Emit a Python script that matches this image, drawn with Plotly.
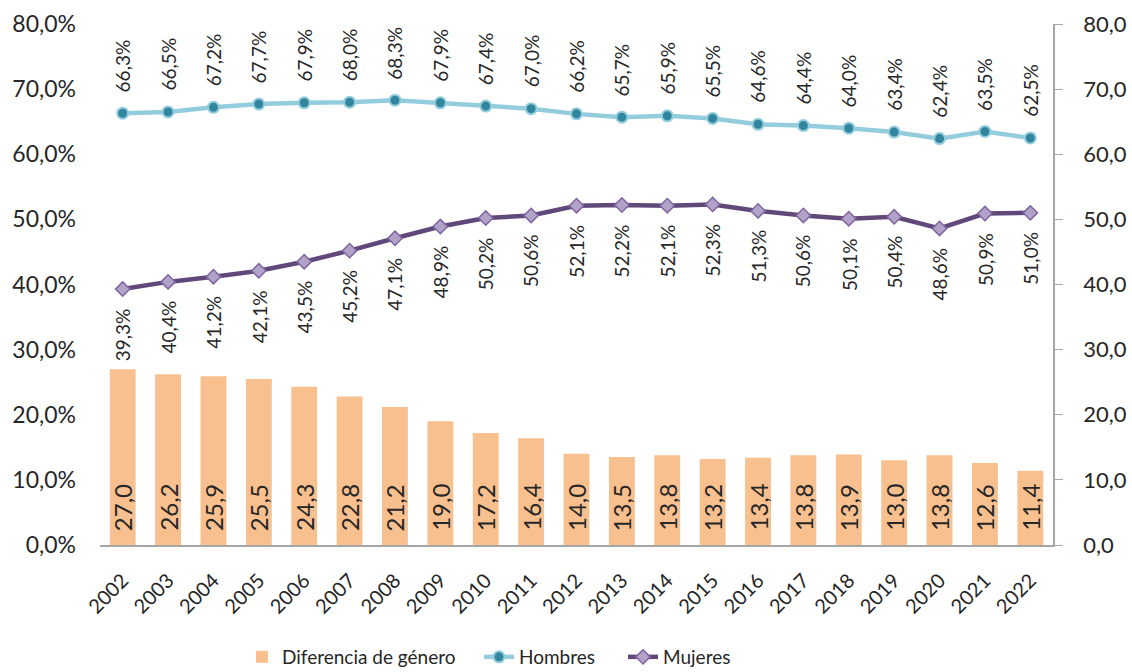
import plotly.graph_objects as go

years = [str(y) for y in range(2002, 2023)]
hombres = [66.3, 66.5, 67.2, 67.7, 67.9, 68.0, 68.3, 67.9, 67.4, 67.0, 66.2,
           65.7, 65.9, 65.5, 64.6, 64.4, 64.0, 63.4, 62.4, 63.5, 62.5]
mujeres = [39.3, 40.4, 41.2, 42.1, 43.5, 45.2, 47.1, 48.9, 50.2, 50.6, 52.1,
           52.2, 52.1, 52.3, 51.3, 50.6, 50.1, 50.4, 48.6, 50.9, 51.0]
diferencia = [27.0, 26.2, 25.9, 25.5, 24.3, 22.8, 21.2, 19.0, 17.2, 16.4, 14.0,
              13.5, 13.8, 13.2, 13.4, 13.8, 13.9, 13.0, 13.8, 12.6, 11.4]

FONT = "Lato"
TXT = "#262626"

# plot area in pixels
L, R, T, B = 100, 79, 24, 127
W, H = 1132, 672
PW, PH = W - L - R, H - T - B


def coma(v):
    return f"{v:.1f}".replace(".", ",")


def px_x(px):
    return (px - L) / PW


def px_y(px):
    return (H - B - px) / PH


fig = go.Figure()

fig.add_trace(go.Bar(
    x=years, y=diferencia, name="Diferencia de género", yaxis="y2",
    marker=dict(color="#F9C08F", line=dict(width=0)),
    width=0.57, legend="legend",
))

fig.add_trace(go.Scatter(
    x=years, y=hombres, name="Hombres", mode="lines+markers",
    line=dict(color="#93CDDD", width=4.5),
    marker=dict(symbol="circle", size=11, color="#31859C",
                line=dict(color="#93CDDD", width=2)),
    legend="legend2",
))

fig.add_trace(go.Scatter(
    x=years, y=mujeres, name="Mujeres", mode="lines+markers",
    line=dict(color="#60497A", width=4.5),
    marker=dict(symbol="diamond", size=11, color="#B3A2C7",
                line=dict(color="#8064A2", width=1.5)),
    legend="legend3",
))

annotations = []
# value labels: bars read from the base, lines above (Hombres) / below (Mujeres)
for i, v in enumerate(diferencia):
    annotations.append(dict(
        x=i, y=0, xref="x", yref="y2", text=coma(v),
        textangle=-90, showarrow=False, yanchor="bottom", yshift=12,
        font=dict(family=FONT, size=24, color=TXT)))
for i, v in enumerate(hombres):
    annotations.append(dict(
        x=i, y=v, xref="x", yref="y", text=coma(v) + "%",
        textangle=-90, showarrow=False, yanchor="bottom", yshift=19,
        font=dict(family=FONT, size=19, color=TXT)))
for i, v in enumerate(mujeres):
    annotations.append(dict(
        x=i, y=v, xref="x", yref="y", text=coma(v) + "%",
        textangle=-90, showarrow=False, yanchor="top", yshift=-17,
        font=dict(family=FONT, size=19, color=TXT)))

leg_common = dict(orientation="h", xanchor="left", y=px_y(657), yanchor="middle",
                  font=dict(family=FONT, size=19, color=TXT),
                  bgcolor="rgba(0,0,0,0)")

fig.update_layout(
    width=W, height=H,
    margin=dict(l=L, r=R, t=T, b=B, autoexpand=False),
    paper_bgcolor="white", plot_bgcolor="white",
    separators=",.",
    font=dict(family=FONT, color=TXT),
    showlegend=True,
    legend=dict(x=px_x(242), **leg_common),
    legend2=dict(x=px_x(479), **leg_common),
    legend3=dict(x=px_x(623), **leg_common),
    xaxis=dict(
        type="category", showgrid=False, showline=True, linecolor="#A6A6A6",
        linewidth=2, ticks="", tickangle=-45, ticklabelstandoff=14,
        tickfont=dict(family=FONT, size=20, color=TXT),
        range=[-0.5, 20.5], automargin=False,
    ),
    yaxis=dict(
        range=[0, 80], dtick=10, tickformat=".1f", ticksuffix="%",
        showgrid=False, zeroline=False, showline=False, ticklabelstandoff=23,
        tickfont=dict(family=FONT, size=23, color=TXT), automargin=False,
    ),
    yaxis2=dict(
        range=[0, 80], dtick=10, tickformat=".1f", overlaying="y", side="right",
        showgrid=False, zeroline=False, showline=True, linecolor="#A6A6A6",
        linewidth=1.5, ticks="outside", ticklen=8, tickcolor="#A6A6A6",
        ticklabelstandoff=16, automargin=False,
        tickfont=dict(family=FONT, size=22, color=TXT),
    ),
    annotations=annotations,
)

fig.write_html("out.html")
